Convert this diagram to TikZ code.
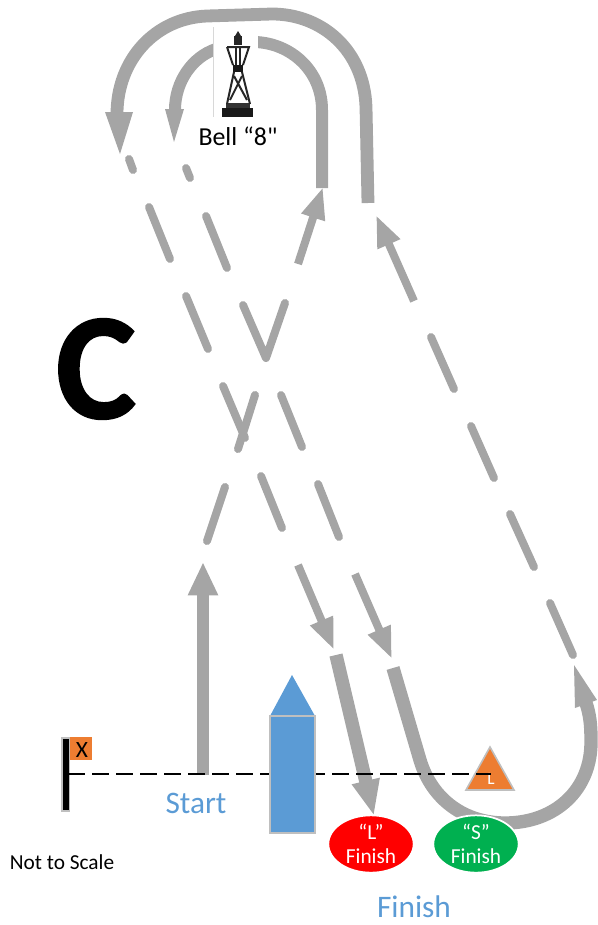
\documentclass[tikz,border=0pt]{standalone}
\usepackage{fontspec}
\setmainfont{Carlito}
\newfontfamily\heavyfont[BoldFeatures={FakeBold=1.1}]{Carlito}
\newfontfamily\qfont{Carlito}
\usetikzlibrary{arrows.meta,shapes.geometric}
\definecolor{route}{HTML}{A5A5A5}
\definecolor{sail}{HTML}{5B9BD5}
\definecolor{buoyor}{HTML}{ED7D31}
\definecolor{rim}{HTML}{BFBFBF}
\definecolor{gfin}{HTML}{00B050}
\tikzset{
 thin leg/.style={route,line width=6pt,line cap=round},
 thin arrow/.style={route,line width=6pt,-{Triangle[length=24pt,width=17pt]}},
 big arrow/.style={route,line width=9pt,-{Triangle[length=25pt,width=21pt]}},
 tw/.style={black!85,line width=1.5pt},
 lbl/.style={inner sep=0pt,align=center},
 oval/.style={draw=rim,line width=1.3pt,ellipse,minimum width=64pt,minimum height=43pt,inner sep=0pt,white,align=center,font=\fontsize{16pt}{18.5pt}\selectfont}
}
\begin{document}
\begin{tikzpicture}[x=0.75pt,y=-0.75pt]
\useasboundingbox (0,0) rectangle (597,925);
% straight dashes
\draw[thin leg] (129,159)--(133,170);
\draw[thin leg] (186,168)--(190,178);
\draw[thin leg] (149,207)--(170,259);
\draw[thin leg] (206,216)--(227,268);
\draw[thin leg] (186,296)--(208,349);
\draw[thin leg,line join=round] (243,305)--(266,358)--(285,303);
\draw[thin leg] (223,386)--(245,438);
\draw[thin leg] (255,395)--(238,449);
\draw[thin leg] (281,395)--(302,447);
\draw[thin leg] (225,487)--(207,541);
\draw[thin leg] (261,476)--(282,528);
\draw[thin leg] (318,484)--(339,537);
\draw[thin leg] (431,337)--(454,389);
\draw[thin leg] (471,426)--(494,478);
\draw[thin leg] (510,514)--(534,567);
\draw[thin leg] (550,603)--(573,655);
% thin arrows
\draw[thin arrow] (298,264)--(323,187);
\draw[thin arrow] (414,301)--(376,215);
\draw[thin arrow] (298,565)--(334,650);
\draw[thin arrow] (355,574)--(392,659);
% thick arrows
\draw[big arrow] (203,775)--(203,562);
\draw[big arrow,line width=10pt,-{Triangle[length=27pt,width=19.5pt]}] (336,655)--(374,816);
% outer turn
\draw[route,line width=9.6pt] (368,203)--(366,107) .. controls (364,50) and (322,14) .. (272,14)
  -- (207,16) .. controls (155,18) and (117,60) .. (117,114);
\fill[route] (105,112)--(133,112)--(120,154)--cycle;
% inner turn
\draw[route,line width=9pt] (322,188)--(322,110) .. controls (322,70) and (290,43) .. (255,42);
\draw[route,line width=9pt] (216,49) .. controls (192,57) and (175,82) .. (175,110);
\fill[route] (165,109)--(184,109)--(174,142)--cycle;
% finish S turn
\draw[route,line width=10pt] (393,668)--(420,760) .. controls (432,800) and (465,823) .. (505,823)
  .. controls (555,823) and (592,790) .. (591,740) .. controls (591,725) and (590,715) .. (586,703);
\fill[route] (575,708)--(597,700)--(574,665)--cycle;
% bell
\fill[white] (213,27) rectangle (258,117);
\draw[rim!60,line width=0.4pt] (213,27)--(213,117);
\fill[black!90] (222,108) rectangle (253,117);
\fill[black!80] (226,103) rectangle (250,108);
\fill[black!90] (233,65) rectangle (243,72);
\fill[black!85] (234,36) rectangle (242,45);
\fill[black!85] (235,36)--(238,31)--(241,36)--cycle;
\draw[tw] (227,47)--(249,47)--(243,65) (227,47)--(233,65);
\draw[tw] (236,47)--(236,65) (240,47)--(240,65);
\draw[tw] (234,72)--(227,104) (242,72)--(250,104);
\draw[tw] (234,76)--(247,100) (242,76)--(230,100);
\node[lbl,font=\fontsize{19.4pt}{21pt}\selectfont] (belllabel) at (238,136) {Bell “8{\qfont"}};
% big letter
\node[lbl,font=\heavyfont\bfseries\fontsize{114pt}{114pt}\selectfont] (course) at (96,369) {C};
% flag and post
\fill[buoyor] (69,737) rectangle (92,760);
\node[lbl,font=\fontsize{17.5pt}{19pt}\selectfont] (flagx) at (82,750) {X};
\draw[rim,line width=1.2pt,fill=black] (62,738) rectangle (69.5,811);
% finish mark
\draw[rim,line width=1.2pt,fill=buoyor] (490,747)--(514,790)--(466,790)--cycle;
\node[lbl,white,font=\fontsize{13pt}{14pt}\selectfont] (marklabel) at (491,779) {L};
% line
\coordinate (lineA) at (68,774);
\coordinate (lineB) at (491,774);
\draw[black,line width=1.5pt,dash pattern=on 12.5pt off 5.5pt] (lineA)--(lineB);
% boat
\fill[sail] (292,675)--(315,716)--(270,716)--cycle;
\draw[rim,line width=1.2pt,fill=sail] (270,716) rectangle (315,833);
% finish ovals
\node[oval,fill=red] (lfin) at (371,844) {\raisebox{-2pt}{“L”}\\\raisebox{-1.5pt}{Finish}};
\node[oval,fill=gfin] (sfin) at (476,844) {\raisebox{-2pt}{“S”}\\\raisebox{-1.5pt}{Finish}};
% labels
\node[lbl,sail,font=\fontsize{23.5pt}{26pt}\selectfont] (startlabel) at (196,803) {Start};
\node[lbl,sail,font=\fontsize{23.5pt}{26pt}\selectfont] (finishlabel) at (414,907) {Finish};
\node[lbl,font=\fontsize{16pt}{18pt}\selectfont] (noscale) at (62,862) {Not to Scale};
\end{tikzpicture}
\end{document}
